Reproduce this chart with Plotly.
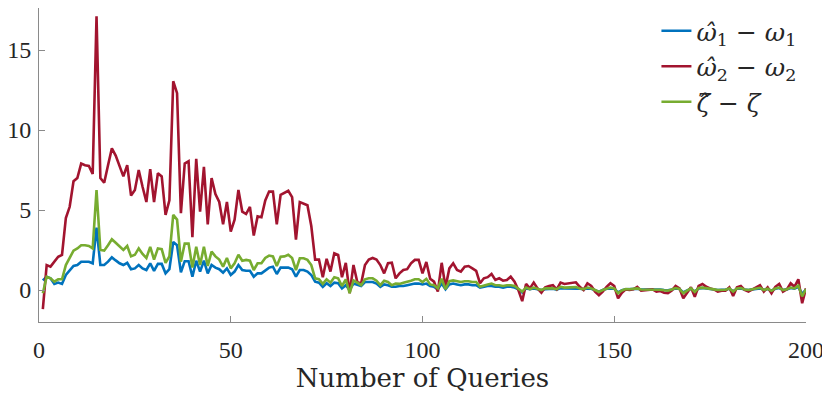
import plotly.graph_objects as go

# number of queries 1..200
queries = list(range(1, 201))

err_w1 = [
    0.6, 0.83, 0.73, 0.38, 0.46, 0.38, 0.94, 1.25, 1.5, 1.56, 1.77, 1.77, 1.77, 1.67, 3.9, 1.56, 1.56, 1.77, 2.04, 1.85,
    1.67, 1.56, 1.7, 1.3, 1.35, 1.56, 1.35, 1.25, 1.67, 1.2, 1.63, 1.63, 1.04, 1.3, 3.0, 2.8, 1.1, 1.8, 1.8, 0.83,
    1.83, 1.15, 1.83, 1.04, 1.56, 1.4, 1.3, 1.08, 1.35, 0.94, 1.15, 1.56, 1.25, 1.2, 1.2, 0.83, 1.04, 1.04, 1.25, 1.4,
    1.46, 1.0, 1.4, 1.4, 1.4, 1.3, 0.83, 1.25, 1.25, 1.15, 0.94, 0.52, 0.46, 0.2, 0.42, 0.25, 0.46, 0.42, 0.1, 0.3,
    0.0, 0.4, 0.3, 0.25, 0.5, 0.5, 0.5, 0.4, 0.2, 0.35, 0.3, 0.2, 0.2, 0.25, 0.25, 0.3, 0.35, 0.4, 0.4, 0.35,
    0.4, 0.25, 0.2, 0.05, 0.4, 0.05, 0.35, 0.4, 0.35, 0.3, 0.35, 0.35, 0.3, 0.3, 0.15, 0.2, 0.25, 0.25, 0.2, 0.2,
    0.15, 0.2, 0.2, 0.15, 0.05, -0.15, 0.1, 0.05, 0.1, 0.05, 0.0, 0.05, 0.08, 0.08, 0.02, 0.12, 0.1, 0.1, 0.1, 0.12,
    0.08, 0.05, 0.1, 0.08, 0.0, -0.1, 0.0, 0.08, 0.1, 0.08, -0.15, -0.02, 0.05, 0.05, 0.05, 0.08, 0.03, 0.03, 0.04, 0.05,
    0.02, 0.03, 0.0, -0.02, 0.03, 0.1, 0.06, -0.15, -0.02, 0.08, -0.1, 0.1, 0.12, 0.08, 0.05, 0.04, 0.0, 0.02, 0.02, 0.08,
    -0.08, 0.08, 0.1, 0.03, 0.0, 0.04, 0.08, 0.1, 0.0, 0.06, -0.04, 0.08, 0.12, 0.0, 0.04, 0.12, 0.08, 0.2, -0.25, 0.05,
]

err_w2 = [
    -1.2, 1.56, 1.46, 1.77, 2.08, 2.2, 4.5, 5.2, 6.8, 7.0, 7.9, 7.8, 7.75, 7.25, 17.1, 7.0, 6.7, 7.8, 8.85, 8.4,
    7.7, 7.1, 7.8, 5.9, 6.25, 7.5, 6.45, 5.5, 7.55, 5.5, 7.3, 7.1, 4.7, 5.6, 13.05, 12.3, 4.8, 7.9, 8.05, 3.3,
    8.2, 4.9, 7.7, 4.1, 7.0, 6.0, 5.5, 4.1, 5.5, 3.65, 4.4, 6.25, 4.9, 4.75, 5.2, 3.4, 4.6, 4.55, 5.6, 6.15,
    6.15, 4.1, 5.95, 6.05, 6.2, 5.8, 3.15, 5.5, 5.4, 5.3, 4.0, 1.9, 1.9, 0.8, 1.95, 1.15, 2.3, 2.2, 0.8, 1.7,
    -0.2, 1.56, 0.5, 0.4, 1.56, 1.9, 2.0, 1.9, 1.56, 1.04, 1.67, 1.7, 0.73, 1.04, 1.25, 1.3, 1.67, 1.88, 1.88, 1.04,
    1.75, 0.7, 0.52, -0.1, 1.7, 0.17, 1.35, 1.67, 1.25, 1.15, 1.46, 1.5, 1.35, 1.2, 0.42, 0.73, 0.8, 1.0, 0.63, 0.73,
    0.58, 0.63, 0.83, 0.52, 0.0, -0.7, 0.38, 0.1, 0.46, 0.1, -0.17, 0.17, 0.25, 0.3, 0.04, 0.46, 0.38, 0.42, 0.42, 0.48,
    0.2, 0.0, 0.42, 0.25, -0.1, -0.33, -0.1, 0.2, 0.42, 0.25, -0.52, -0.17, 0.04, 0.0, 0.04, 0.2, -0.04, -0.02, 0.02, 0.04,
    -0.1, -0.06, -0.17, -0.2, -0.04, 0.25, 0.1, -0.52, -0.17, 0.17, -0.42, 0.25, 0.38, 0.2, 0.1, 0.04, -0.1, -0.04, -0.04, 0.17,
    -0.38, 0.17, 0.25, 0.0, -0.1, 0.04, 0.2, 0.3, -0.1, 0.17, -0.2, 0.2, 0.38, -0.1, 0.04, 0.42, 0.2, 0.67, -0.83, 0.1,
]

err_zeta = [
    -0.2, 0.83, 0.73, 0.52, 0.67, 0.67, 1.56, 1.98, 2.46, 2.6, 2.8, 2.8, 2.75, 2.6, 6.25, 2.5, 2.46, 2.8, 3.17, 2.95,
    2.7, 2.5, 2.75, 2.1, 2.2, 2.6, 2.25, 2.0, 2.7, 1.9, 2.6, 2.55, 1.7, 2.1, 4.7, 4.4, 1.77, 2.9, 2.9, 1.4,
    2.7, 1.56, 2.7, 1.5, 2.4, 2.1, 1.9, 1.46, 2.0, 1.35, 1.67, 2.2, 1.83, 1.88, 1.83, 1.25, 1.67, 1.67, 2.0, 2.15,
    2.1, 1.5, 2.08, 2.1, 2.2, 2.0, 1.25, 1.98, 1.98, 1.88, 1.56, 0.73, 0.67, 0.38, 0.67, 0.46, 0.8, 0.73, 0.25, 0.67,
    -0.2, 0.6, 0.46, 0.3, 0.67, 0.73, 0.73, 0.58, 0.3, 0.58, 0.5, 0.3, 0.4, 0.38, 0.45, 0.5, 0.58, 0.67, 0.67, 0.5,
    0.7, 0.35, 0.3, 0.1, 0.7, 0.05, 0.55, 0.6, 0.55, 0.5, 0.55, 0.55, 0.5, 0.5, 0.2, 0.3, 0.35, 0.4, 0.3, 0.3,
    0.25, 0.3, 0.3, 0.25, 0.1, -0.1, 0.15, 0.05, 0.15, 0.05, 0.0, 0.1, 0.1, 0.1, 0.05, 0.2, 0.15, 0.15, 0.15, 0.18,
    0.1, 0.05, 0.15, 0.1, 0.0, -0.12, 0.0, 0.1, 0.15, 0.1, -0.2, -0.03, 0.06, 0.05, 0.06, 0.1, 0.03, 0.03, 0.04, 0.05,
    0.02, 0.02, -0.02, -0.04, 0.03, 0.12, 0.07, -0.2, -0.04, 0.1, -0.12, 0.12, 0.15, 0.1, 0.06, 0.04, 0.0, 0.02, 0.02, 0.1,
    -0.1, 0.1, 0.12, 0.03, 0.0, 0.05, 0.1, 0.14, 0.0, 0.08, -0.05, 0.1, 0.15, 0.0, 0.05, 0.15, 0.1, 0.28, -0.4, 0.05,
]

x_ticks = [0, 50, 100, 150, 200]
y_ticks = [0, 5, 10, 15]

series = [
    ('<i>ω̂</i><sub>1</sub> − <i>ω</i><sub>1</sub>', err_w1, '#0072BD'),
    ('<i>ω̂</i><sub>2</sub> − <i>ω</i><sub>2</sub>', err_w2, '#A2142F'),
    ('<i>ζ̂</i> − <i>ζ</i>', err_zeta, '#77AC30'),
]

tick_font = dict(family='Liberation Serif', size=24, color='#262626')
title_font = dict(family='DejaVu Serif', size=26, color='#262626')
legend_font = dict(family='DejaVu Serif', size=25, color='#262626')

fig = go.Figure()
for i, (name, vals, color) in enumerate(series):
    fig.add_trace(go.Scatter(x=queries, y=vals, mode='lines', name=name,
                             legendgroup=str(i),
                             line=dict(color=color, width=2.6)))

axis_style = dict(
    showline=True,
    linecolor='#8a8a8a',
    linewidth=1,
    showgrid=False,
    zeroline=False,
    ticks='inside',
    ticklen=6,
    tickcolor='#8a8a8a',
    mirror=False,
    automargin=False,
    tickfont=tick_font,
)

# page body has an 8px margin, so the figure is sized to fit the window
fig.update_layout(
    width=822, height=391,
    margin=dict(l=31, r=24, t=0, b=77),
    paper_bgcolor='white',
    plot_bgcolor='white',
    font=dict(family='DejaVu Serif', color='#262626'),
    xaxis=dict(axis_style, range=[0, 200], tickvals=x_ticks, ticklabelstandoff=6,
               title=dict(text='Number of Queries', font=title_font, standoff=4)),
    yaxis=dict(axis_style, range=[-2, 17.625], tickvals=y_ticks, ticklabelstandoff=2),
    legend=dict(x=0.805, y=1.0, xanchor='left', yanchor='top',
                font=legend_font,
                bgcolor='rgba(0,0,0,0)', tracegroupgap=0, itemwidth=30),
    showlegend=True,
)

fig.write_html("out.html")
